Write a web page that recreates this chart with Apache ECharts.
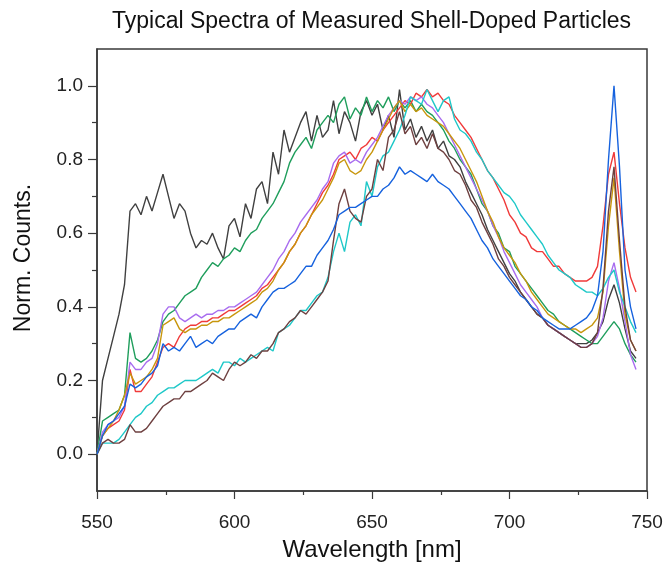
<!DOCTYPE html>
<html>
<head>
<meta charset="utf-8">
<script src="https://cdn.jsdelivr.net/npm/echarts@6/dist/echarts.min.js"></script>
<style>
  html, body { margin: 0; padding: 0; background: #fff; }
  #chart { width: 663px; height: 563px; }
</style>
</head>
<body>
<div id="chart"></div>
<script>
// wavelength grid, 550..746 nm every 2 nm
let wavelengths = [];
for (let w = 550; w <= 746; w += 2) wavelengths.push(w);

// spectra (normalised counts)
let blackVals = [
  0.00, 0.20, 0.26, 0.32, 0.38, 0.46, 0.66, 0.68, 0.65, 0.70,
  0.66, 0.71, 0.76, 0.70, 0.64, 0.68, 0.66, 0.60, 0.56, 0.58,
  0.57, 0.60, 0.56, 0.53, 0.62, 0.64, 0.59, 0.68, 0.64, 0.72,
  0.74, 0.68, 0.82, 0.76, 0.88, 0.82, 0.86, 0.90, 0.93, 0.85,
  0.92, 0.86, 0.88, 0.96, 0.87, 0.93, 0.90, 0.85, 0.93, 0.96,
  0.92, 0.95, 0.88, 0.92, 0.86, 0.99, 0.88, 0.91, 0.86, 0.89,
  0.85, 0.88, 0.83, 0.85, 0.81, 0.80, 0.78, 0.74, 0.71, 0.68,
  0.65, 0.61, 0.58, 0.55, 0.52, 0.49, 0.47, 0.44, 0.42, 0.40,
  0.38, 0.37, 0.35, 0.34, 0.33, 0.32, 0.31, 0.30, 0.30, 0.30,
  0.31, 0.33, 0.36, 0.42, 0.46, 0.41, 0.34, 0.28, 0.26
];
let greenVals = [
  0.00, 0.09, 0.10, 0.11, 0.12, 0.16, 0.33, 0.26, 0.25, 0.26,
  0.28, 0.31, 0.36, 0.38, 0.39, 0.41, 0.43, 0.44, 0.45, 0.48,
  0.50, 0.52, 0.51, 0.53, 0.54, 0.56, 0.55, 0.58, 0.60, 0.61,
  0.64, 0.66, 0.68, 0.71, 0.74, 0.79, 0.82, 0.84, 0.86, 0.83,
  0.88, 0.90, 0.92, 0.90, 0.95, 0.97, 0.91, 0.94, 0.92, 0.97,
  0.93, 0.96, 0.94, 0.97, 0.93, 0.96, 0.94, 0.96, 0.93, 0.95,
  0.93, 0.92, 0.90, 0.88, 0.85, 0.83, 0.80, 0.78, 0.76, 0.72,
  0.68, 0.66, 0.62, 0.60, 0.56, 0.55, 0.51, 0.49, 0.47, 0.45,
  0.43, 0.41, 0.39, 0.38, 0.36, 0.35, 0.34, 0.33, 0.32, 0.31,
  0.30, 0.30, 0.32, 0.34, 0.36, 0.34, 0.30, 0.27, 0.25
];
let redVals = [
  0.00, 0.05, 0.07, 0.08, 0.09, 0.12, 0.23, 0.17, 0.17, 0.19,
  0.21, 0.25, 0.29, 0.30, 0.29, 0.32, 0.34, 0.35, 0.35, 0.36,
  0.36, 0.37, 0.37, 0.38, 0.39, 0.39, 0.40, 0.41, 0.42, 0.43,
  0.45, 0.46, 0.48, 0.50, 0.52, 0.55, 0.57, 0.60, 0.62, 0.65,
  0.68, 0.71, 0.73, 0.76, 0.80, 0.81, 0.82, 0.80, 0.83, 0.84,
  0.86, 0.85, 0.88, 0.90, 0.92, 0.94, 0.96, 0.95, 0.98, 0.97,
  0.99, 0.97, 0.98, 0.96, 0.95, 0.92, 0.90, 0.88, 0.86, 0.83,
  0.80, 0.77, 0.75, 0.72, 0.69, 0.65, 0.63, 0.60, 0.59, 0.56,
  0.55, 0.55, 0.53, 0.51, 0.51, 0.49, 0.48, 0.47, 0.47, 0.47,
  0.48, 0.51, 0.62, 0.76, 0.82, 0.68, 0.56, 0.48, 0.44
];
let purpleVals = [
  0.00, 0.06, 0.08, 0.09, 0.10, 0.13, 0.25, 0.23, 0.23, 0.25,
  0.26, 0.30, 0.38, 0.40, 0.40, 0.37, 0.36, 0.37, 0.38, 0.37,
  0.38, 0.38, 0.39, 0.39, 0.40, 0.40, 0.41, 0.42, 0.43, 0.44,
  0.46, 0.48, 0.50, 0.53, 0.55, 0.58, 0.60, 0.63, 0.65, 0.67,
  0.69, 0.72, 0.74, 0.79, 0.81, 0.82, 0.79, 0.80, 0.79, 0.82,
  0.84, 0.86, 0.89, 0.92, 0.94, 0.96, 0.95, 0.97, 0.96, 0.97,
  0.95, 0.94, 0.92, 0.90, 0.87, 0.84, 0.81, 0.78, 0.75, 0.72,
  0.69, 0.66, 0.62, 0.59, 0.55, 0.52, 0.49, 0.46, 0.44, 0.42,
  0.40, 0.37, 0.35, 0.34, 0.33, 0.32, 0.31, 0.30, 0.29, 0.29,
  0.30, 0.32, 0.37, 0.47, 0.52, 0.45, 0.36, 0.27, 0.23
];
let goldVals = [
  0.00, 0.05, 0.07, 0.09, 0.12, 0.16, 0.22, 0.19, 0.20, 0.21,
  0.23, 0.26, 0.35, 0.36, 0.37, 0.34, 0.33, 0.34, 0.34, 0.35,
  0.35, 0.36, 0.36, 0.37, 0.37, 0.38, 0.39, 0.40, 0.41, 0.42,
  0.44, 0.45, 0.47, 0.50, 0.52, 0.55, 0.57, 0.60, 0.62, 0.65,
  0.67, 0.69, 0.72, 0.75, 0.79, 0.80, 0.77, 0.76, 0.77, 0.80,
  0.82, 0.85, 0.88, 0.91, 0.94, 0.96, 0.93, 0.95, 0.93, 0.94,
  0.92, 0.91, 0.90, 0.89, 0.87, 0.85, 0.83, 0.80, 0.77, 0.74,
  0.70, 0.66, 0.63, 0.59, 0.56, 0.54, 0.52, 0.49, 0.47, 0.44,
  0.42, 0.40, 0.38, 0.37, 0.36, 0.35, 0.34, 0.34, 0.33, 0.34,
  0.35, 0.37, 0.44, 0.62, 0.75, 0.55, 0.38, 0.31, 0.28
];
let blueVals = [
  0.00, 0.05, 0.08, 0.09, 0.11, 0.13, 0.19, 0.18, 0.19, 0.21,
  0.22, 0.24, 0.30, 0.28, 0.29, 0.28, 0.30, 0.32, 0.29, 0.30,
  0.31, 0.30, 0.32, 0.33, 0.34, 0.34, 0.36, 0.37, 0.38, 0.37,
  0.40, 0.42, 0.44, 0.45, 0.45, 0.46, 0.47, 0.49, 0.51, 0.51,
  0.54, 0.56, 0.58, 0.61, 0.65, 0.66, 0.67, 0.67, 0.68, 0.69,
  0.70, 0.70, 0.72, 0.73, 0.75, 0.78, 0.76, 0.77, 0.76, 0.75,
  0.74, 0.76, 0.74, 0.73, 0.72, 0.70, 0.68, 0.66, 0.64, 0.61,
  0.58, 0.56, 0.53, 0.51, 0.49, 0.47, 0.45, 0.43, 0.42, 0.40,
  0.39, 0.37, 0.36, 0.35, 0.34, 0.34, 0.34, 0.35, 0.36, 0.37,
  0.39, 0.43, 0.55, 0.80, 1.00, 0.78, 0.50, 0.40, 0.34
];
let cyanVals = [
  0.00, 0.03, 0.03, 0.03, 0.04, 0.06, 0.08, 0.10, 0.11, 0.13,
  0.14, 0.16, 0.17, 0.18, 0.18, 0.19, 0.20, 0.20, 0.20, 0.21,
  0.22, 0.23, 0.22, 0.25, 0.25, 0.24, 0.26, 0.25, 0.26, 0.27,
  0.28, 0.29, 0.28, 0.33, 0.34, 0.35, 0.37, 0.39, 0.39, 0.41,
  0.43, 0.44, 0.48, 0.55, 0.60, 0.55, 0.63, 0.65, 0.62, 0.74,
  0.70, 0.78, 0.81, 0.82, 0.85, 0.88, 0.92, 0.97, 0.96, 0.95,
  0.99, 0.96, 0.93, 0.96, 0.97, 0.91, 0.88, 0.87, 0.85, 0.82,
  0.80, 0.77, 0.75, 0.73, 0.71, 0.70, 0.68, 0.65, 0.63, 0.61,
  0.59, 0.57, 0.54, 0.52, 0.50, 0.49, 0.48, 0.46, 0.45, 0.44,
  0.44, 0.43, 0.45, 0.48, 0.50, 0.44, 0.40, 0.36, 0.33
];
let brownVals = [
  0.00, 0.03, 0.04, 0.03, 0.03, 0.04, 0.08, 0.06, 0.06, 0.07,
  0.09, 0.11, 0.13, 0.14, 0.15, 0.15, 0.17, 0.17, 0.18, 0.19,
  0.20, 0.22, 0.21, 0.20, 0.23, 0.25, 0.24, 0.25, 0.27, 0.26,
  0.28, 0.28, 0.30, 0.33, 0.34, 0.36, 0.37, 0.39, 0.38, 0.40,
  0.42, 0.44, 0.47, 0.58, 0.68, 0.72, 0.66, 0.64, 0.63, 0.70,
  0.72, 0.80, 0.77, 0.86, 0.88, 0.93, 0.87, 0.89, 0.84, 0.86,
  0.83, 0.87, 0.83, 0.82, 0.80, 0.77, 0.76, 0.73, 0.69, 0.67,
  0.63, 0.60, 0.57, 0.53, 0.51, 0.48, 0.46, 0.44, 0.42, 0.40,
  0.38, 0.37, 0.35, 0.34, 0.33, 0.32, 0.31, 0.30, 0.29, 0.29,
  0.30, 0.33, 0.45, 0.66, 0.78, 0.58, 0.40, 0.31, 0.28
];

let seriesList = [
  { vals: blackVals, color: '#404040' },
  { vals: greenVals, color: '#1f9e5c' },
  { vals: redVals, color: '#f03a3a' },
  { vals: purpleVals, color: '#a86cef' },
  { vals: goldVals, color: '#c8960c' },
  { vals: cyanVals, color: '#1ec8c8' },
  { vals: brownVals, color: '#6e4040' },
  { vals: blueVals, color: '#1662de' }
];

let yMajor = [0, 0.2, 0.4, 0.6, 0.8, 1.0];
let yMinor = [0.1, 0.3, 0.5, 0.7, 0.9];
let axisColor = '#3a3a3a';

var myChart = echarts.init(document.getElementById('chart'));
let option = {
  backgroundColor: '#fff',
  animation: false,
  title: {
    text: 'Typical Spectra of Measured Shell-Doped Particles',
    left: 107,
    top: 5,
    textStyle: { fontFamily: 'Liberation Sans', fontSize: 23, fontWeight: 'normal', color: '#111' }
  },
  grid: {
    left: 97, right: 16, top: 49, bottom: 72,
    outerBoundsMode: 'none',
    containLabel: false,
    show: true, borderColor: axisColor, borderWidth: 1.5
  },
  xAxis: {
    type: 'value', min: 550, max: 750, interval: 50,
    name: 'Wavelength [nm]', nameLocation: 'middle', nameGap: 47,
    nameTextStyle: { fontFamily: 'Liberation Sans', fontSize: 24, color: '#111' },
    axisLine: { show: true, onZero: false, lineStyle: { color: axisColor, width: 1.5 } },
    axisTick: { show: true, length: 8, lineStyle: { color: axisColor, width: 1.2 } },
    minorTick: { show: true, splitNumber: 2, length: 4, lineStyle: { color: axisColor, width: 1.2 } },
    axisLabel: { fontFamily: 'Liberation Sans', fontSize: 19, color: '#222', margin: 22 },
    splitLine: { show: false }
  },
  yAxis: [
    {
      type: 'value', min: -0.1, max: 1.1,
      name: 'Norm. Counts.', nameLocation: 'middle', nameGap: 62,
      nameTextStyle: { fontFamily: 'Liberation Sans', fontSize: 23, color: '#111', padding: [0, 0, 0, 24] },
      axisLine: { show: true, onZero: false, lineStyle: { color: axisColor, width: 1.5 } },
      axisTick: { show: true, length: 9, customValues: yMajor, lineStyle: { color: axisColor, width: 1.2 } },
      axisLabel: {
        fontFamily: 'Liberation Sans', fontSize: 19, color: '#222', margin: 14,
        customValues: yMajor,
        formatter: function (v) { return v.toFixed(1); }
      },
      splitLine: { show: false }
    },
    {
      // minor ticks only
      type: 'value', min: -0.1, max: 1.1, position: 'left',
      axisLine: { show: false, onZero: false },
      axisTick: { show: true, length: 5, customValues: yMinor, lineStyle: { color: axisColor, width: 1.2 } },
      axisLabel: { show: false },
      splitLine: { show: false }
    }
  ],
  series: seriesList.map(function (s) {
    return {
      type: 'line',
      yAxisIndex: 0,
      showSymbol: false,
      lineStyle: { color: s.color, width: 1.4 },
      itemStyle: { color: s.color },
      data: wavelengths.map(function (w, i) { return [w, s.vals[i]]; })
    };
  })
};
myChart.setOption(option);
</script>
</body>
</html>
